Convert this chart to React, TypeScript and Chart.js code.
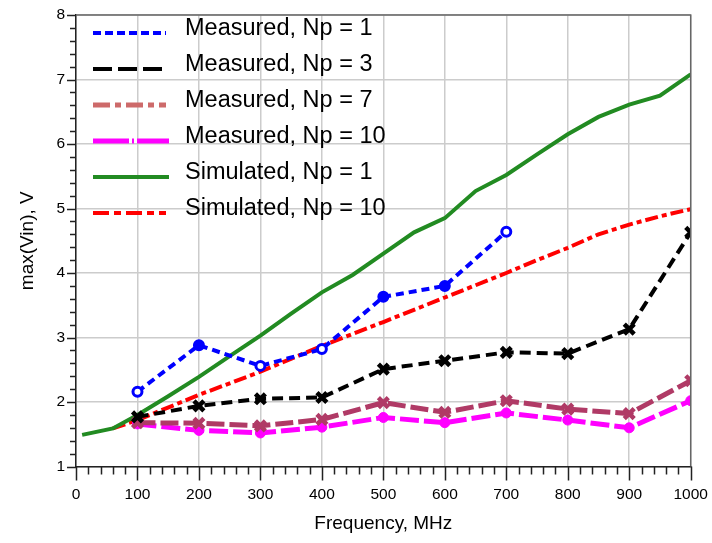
import { useEffect, useRef } from 'react';
import { Chart, registerables } from 'chart.js';

Chart.register(...registerables);

const FONT = "'Liberation Sans', Arial, Helvetica, sans-serif";

// Measured points (MHz)
const freqMeasuredNp1 = [100, 200, 300, 400, 500, 600, 700];
const measuredNp1 = [2.16, 2.88, 2.56, 2.82, 3.63, 3.8, 4.64];
const freqMeasured = [100, 200, 300, 400, 500, 600, 700, 800, 900, 1000];
const measuredNp3 = [1.77, 1.94, 2.05, 2.07, 2.51, 2.64, 2.77, 2.75, 3.13, 4.63];
const measuredNp7 = [1.68, 1.67, 1.63, 1.73, 1.99, 1.84, 2.02, 1.89, 1.82, 2.33];
const measuredNp10 = [1.66, 1.56, 1.52, 1.61, 1.76, 1.68, 1.83, 1.72, 1.6, 2.02];

// Simulated curves (MHz)
const freqSimNp1 = [10, 60, 100, 150, 200, 250, 300, 350, 400, 450, 500, 550, 600, 650, 700, 750, 800, 850, 900, 950, 1000];
const simulatedNp1 = [1.49, 1.59, 1.8, 2.09, 2.39, 2.71, 3.03, 3.37, 3.7, 3.97, 4.3, 4.63, 4.85, 5.27, 5.52, 5.84, 6.15, 6.42, 6.61, 6.75, 7.08];
const freqSimNp10 = [60, 100, 200, 300, 400, 500, 600, 700, 750, 800, 850, 900, 950, 1000];
const simulatedNp10 = [1.59, 1.72, 2.11, 2.47, 2.87, 3.24, 3.62, 4.0, 4.2, 4.39, 4.6, 4.75, 4.88, 4.99];

const xTicksMajor = [0, 100, 200, 300, 400, 500, 600, 700, 800, 900, 1000];
const yTicksMajor = [1, 2, 3, 4, 5, 6, 7, 8];

const pairs = (xs: number[], ys: number[]) => xs.map((x, i) => ({ x, y: ys[i] }));

// Hollow-looking markers on some of the Np = 1 measurements
const np1Fill = ['#ffffff', '#0000ff', '#ffffff', '#ffffff', '#0000ff', '#0000ff', '#ffffff'];

// Minor tick marks, plot frame and the in-plot legend
const decorPlugin = {
  id: 'decor',
  afterDraw(chart: any) {
    const { ctx, chartArea } = chart;
    const { left, right, top, bottom } = chartArea;
    const xs = chart.scales.x;
    const ys = chart.scales.y;
    ctx.save();
    // frame top/right
    ctx.strokeStyle = '#666666';
    ctx.lineWidth = 1.5;
    ctx.beginPath();
    ctx.moveTo(left, top);
    ctx.lineTo(right, top);
    ctx.lineTo(right, bottom);
    ctx.stroke();
    // x ticks (every 20 MHz)
    ctx.strokeStyle = '#222222';
    ctx.lineWidth = 1.5;
    ctx.beginPath();
    for (let v = 0; v <= 1000; v += 20) {
      const px = Math.round(xs.getPixelForValue(v)) + 0.5;
      const len = v % 100 === 0 ? 14 : 8;
      ctx.moveTo(px, bottom);
      ctx.lineTo(px, bottom + len);
    }
    // y ticks (every 0.2 V)
    for (let k = 0; k <= 35; k++) {
      const v = 1 + k * 0.2;
      const py = Math.round(ys.getPixelForValue(v)) + 0.5;
      const len = k % 5 === 0 ? 9 : 6;
      ctx.moveTo(left, py);
      ctx.lineTo(left - len, py);
    }
    ctx.stroke();

    // legend
    const rowY0 = 33;
    const rowStep = 36;
    chart.data.datasets.forEach((ds: any, i: number) => {
      const y = rowY0 + i * rowStep;
      ctx.strokeStyle = ds.legendColor || ds.borderColor;
      ctx.lineWidth = ds.borderWidth;
      ctx.setLineDash(ds.legendDash || ds.borderDash || []);
      ctx.lineCap = 'butt';
      ctx.beginPath();
      ctx.moveTo(93, y);
      ctx.lineTo(ds.legendEnd || 166, y);
      ctx.stroke();
      ctx.setLineDash([]);
      ctx.fillStyle = '#000000';
      ctx.font = `23.5px ${FONT}`;
      ctx.textBaseline = 'middle';
      ctx.textAlign = 'left';
      ctx.fillText(ds.label, 185, y - 4);
    });
    ctx.restore();
  },
};

export default function App() {
  const canvasRef = useRef<HTMLCanvasElement | null>(null);

  useEffect(() => {
    if (!canvasRef.current) return;
    const chart = new Chart(canvasRef.current, {
      type: 'line',
      data: {
        datasets: [
          {
            label: 'Measured, Np = 1',
            data: pairs(freqMeasuredNp1, measuredNp1),
            borderColor: '#0000ff',
            borderWidth: 4,
            borderDash: [8, 5],
            pointStyle: 'circle',
            pointRadius: 4.5,
            pointBorderWidth: 3,
            pointBackgroundColor: np1Fill,
            pointBorderColor: '#0000ff',
            legendDash: [8, 4],
          },
          {
            label: 'Measured, Np = 3',
            data: pairs(freqMeasured, measuredNp3),
            borderColor: '#000000',
            borderWidth: 4,
            borderDash: [11, 6],
            pointStyle: 'crossRot',
            pointRadius: 7,
            pointBorderWidth: 4.5,
            pointBorderColor: '#000000',
            legendDash: [19, 6],
          },
          {
            label: 'Measured, Np = 7',
            data: pairs(freqMeasured, measuredNp7),
            borderColor: '#b03a66',
            borderWidth: 5,
            borderDash: [18, 5],
            pointStyle: 'crossRot',
            pointRadius: 7,
            pointBorderWidth: 4.5,
            pointBorderColor: '#b03a66',
            legendColor: '#cd6a6a',
            legendDash: [17, 5, 6, 5],
          },
          {
            label: 'Measured, Np = 10',
            data: pairs(freqMeasured, measuredNp10),
            borderColor: '#ff00ff',
            borderWidth: 5,
            borderDash: [19, 5],
            pointStyle: 'circle',
            pointRadius: 5,
            pointBorderWidth: 1,
            pointBackgroundColor: '#ff00ff',
            pointBorderColor: '#ff00ff',
            legendDash: [36, 3, 2, 3],
            legendEnd: 169,
          },
          {
            label: 'Simulated, Np = 1',
            data: pairs(freqSimNp1, simulatedNp1),
            borderColor: '#228b22',
            borderWidth: 4,
            pointRadius: 0,
            legendEnd: 169,
          },
          {
            label: 'Simulated, Np = 10',
            data: pairs(freqSimNp10, simulatedNp10),
            borderColor: '#ff0000',
            borderWidth: 4,
            borderDash: [13, 4, 5, 4],
            pointRadius: 0,
            legendDash: [16, 5, 7, 5],
          },
        ] as any,
      },
      options: {
        animation: false,
        responsive: true,
        maintainAspectRatio: false,
        layout: { padding: { top: 15, right: 21.3, left: 0, bottom: 0 } },
        elements: { line: { tension: 0 } },
        plugins: {
          legend: { display: false },
          tooltip: { enabled: false },
        },
        scales: {
          x: {
            type: 'linear',
            min: 0,
            max: 1000,
            afterBuildTicks: (s: any) => {
              s.ticks = xTicksMajor.map((v) => ({ value: v }));
            },
            afterFit: (s: any) => {
              s.height = 76.5;
              s.paddingLeft = 0;
              s.paddingRight = 0;
            },
            grid: { color: '#cccccc', lineWidth: 1.5, drawTicks: false },
            border: { display: true, color: '#222222', width: 1.5 },
            ticks: {
              color: '#000000',
              font: { family: FONT, size: 15.5 },
              padding: 19,
              maxRotation: 0,
              autoSkip: false,
              callback: (v: any) => String(v),
            },
            title: {
              display: true,
              text: 'Frequency, MHz',
              color: '#000000',
              font: { family: FONT, size: 19 },
              padding: { top: 0, bottom: 8 },
            },
          },
          y: {
            type: 'linear',
            min: 1,
            max: 8,
            afterBuildTicks: (s: any) => {
              s.ticks = yTicksMajor.map((v) => ({ value: v }));
            },
            afterFit: (s: any) => {
              s.width = 76;
              s.paddingTop = 0;
              s.paddingBottom = 0;
            },
            grid: { color: '#cccccc', lineWidth: 1.5, drawTicks: false },
            border: { display: true, color: '#222222', width: 1.5 },
            ticks: {
              color: '#000000',
              font: { family: FONT, size: 15.5 },
              padding: 11,
              callback: (v: any) => String(v),
            },
            title: {
              display: true,
              text: 'max(Vin), V',
              color: '#000000',
              font: { family: FONT, size: 19 },
              padding: { top: 16, bottom: 0 },
            },
          },
        },
      } as any,
      plugins: [decorPlugin],
    });
    return () => chart.destroy();
  }, []);

  return (
    <div style={{ position: 'absolute', left: 0, top: 0, width: 712, height: 543, background: '#ffffff' }}>
      <canvas ref={canvasRef} />
    </div>
  );
}
